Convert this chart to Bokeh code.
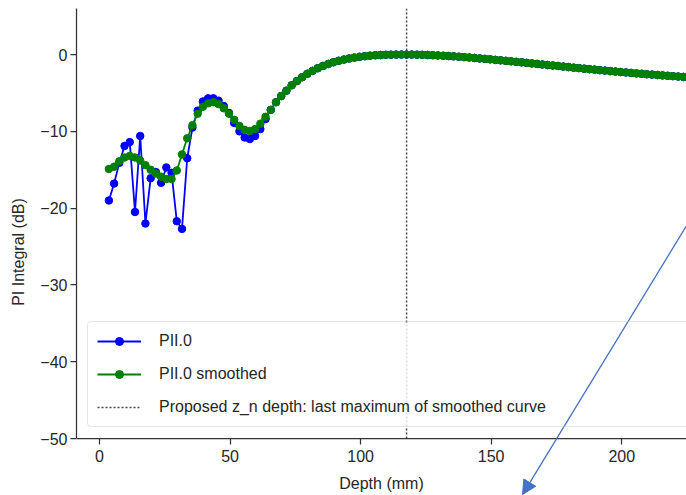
from bokeh.plotting import figure
from bokeh.models import (Legend, LegendItem, Arrow, NormalHead, Range1d, FixedTicker,
                          BoxAnnotation)
from bokeh.embed import file_html
from bokeh.resources import INLINE

# ---- data ----
depth_mm = [
    3.6, 5.6, 7.6, 9.6, 11.6, 13.6, 15.6, 17.6, 19.6, 21.6,
    23.6, 25.6, 27.6, 29.6, 31.6, 33.6, 35.6, 37.6, 39.6, 41.6,
    43.6, 45.6, 47.6, 49.6, 51.6, 53.6, 55.6, 57.6, 59.6, 61.6,
    63.6, 65.6, 67.6, 69.6, 71.6, 73.6, 75.6, 77.6, 79.6, 81.6,
    83.6, 85.6, 87.6, 89.6, 91.6, 93.6, 95.6, 97.6, 99.6, 101.6,
    103.6, 105.6, 107.6, 109.6, 111.6, 113.6, 115.6, 117.6, 119.6, 121.6,
    123.6, 125.6, 127.6, 129.6, 131.6, 133.6, 135.6, 137.6, 139.6, 141.6,
    143.6, 145.6, 147.6, 149.6, 151.6, 153.6, 155.6, 157.6, 159.6, 161.6,
    163.6, 165.6, 167.6, 169.6, 171.6, 173.6, 175.6, 177.6, 179.6, 181.6,
    183.6, 185.6, 187.6, 189.6, 191.6, 193.6, 195.6, 197.6, 199.6, 201.6,
    203.6, 205.6, 207.6, 209.6, 211.6, 213.6, 215.6, 217.6, 219.6, 221.6,
    223.6, 225.6,
]

pii_smoothed = [
    -14.9, -14.6, -13.9, -13.4, -13.2, -13.4, -13.8, -14.4, -15.0, -15.5,
    -15.9, -16.2, -16.2, -15.1, -13.0, -10.9, -9.2, -7.7, -6.8, -6.35,
    -6.2, -6.45, -7.0, -7.7, -8.5, -9.3, -9.8, -9.95, -9.7, -9.0,
    -8.1, -7.2, -6.2, -5.4, -4.7, -4.0, -3.45, -2.95, -2.5, -2.12,
    -1.78, -1.48, -1.22, -1.0, -0.81, -0.65, -0.51, -0.39, -0.29, -0.21,
    -0.14, -0.09, -0.055, -0.03, -0.015, -0.006, -0.002, 0.0, -0.004, -0.015,
    -0.03, -0.05, -0.08, -0.11, -0.15, -0.19, -0.23, -0.28, -0.33, -0.38,
    -0.44, -0.5, -0.56, -0.62, -0.69, -0.75, -0.82, -0.88, -0.95, -1.01,
    -1.08, -1.15, -1.22, -1.29, -1.36, -1.42, -1.49, -1.56, -1.63, -1.7,
    -1.76, -1.83, -1.9, -1.96, -2.03, -2.09, -2.15, -2.21, -2.27, -2.33,
    -2.39, -2.45, -2.5, -2.56, -2.61, -2.66, -2.71, -2.76, -2.81, -2.86,
    -2.91, -2.96,
]

# raw (unsmoothed) values where they differ visibly from the smoothed curve
pii_raw_head = [
    -19.0, -16.8, -14.1, -11.9, -11.4, -20.5, -10.6, -22.0, -16.1, -15.3,
    -16.7, -14.7, -15.4, -21.7, -22.7, -13.5, -9.5, -7.3, -6.1, -5.7,
    -5.7, -6.0, -6.7, -7.6, -8.9, -10.0, -10.8, -11.0, -10.6, -9.7,
    -8.4,
]
pii_raw = pii_raw_head + pii_smoothed[len(pii_raw_head):]

z_n_depth = 117.6

x_ticks = [0, 50, 100, 150, 200]
y_ticks = [-50, -40, -30, -20, -10, 0]
x_lim = (-8.8, 224.8)
y_axis_min, y_axis_max = -50, 6
y_view_min = -57.42   # visible area continues below the x axis (for the overlay arrow)

# annotation arrow overlaid on the screenshot (data coordinates)
arrow_start = (226.4, -21.4)
arrow_end = (162.0, -57.3)

labels = ["PII.0", "PII.0 smoothed",
          "Proposed z_n depth: last maximum of smoothed curve"]

FONT = "Liberation Sans"
TXT = "#262626"
AX = "#333333"

p = figure(width=686, height=495, output_backend="svg", toolbar_location=None,
           x_range=Range1d(*x_lim), y_range=Range1d(y_view_min, y_axis_max),
           min_border_left=76, min_border_right=0, min_border_top=8,
           min_border_bottom=0)
p.outline_line_color = None
p.grid.visible = False
p.background_fill_color = "white"
p.border_fill_color = "white"

for ax, ticks in ((p.xaxis[0], x_ticks), (p.yaxis[0], y_ticks)):
    ax.ticker = FixedTicker(ticks=ticks)
    ax.axis_line_color = AX
    ax.axis_line_width = 1.25
    ax.major_tick_line_color = AX
    ax.major_tick_line_width = 1.25
    ax.major_tick_out = 6
    ax.major_tick_in = 0
    ax.minor_tick_line_color = None
    ax.major_label_text_font = FONT
    ax.major_label_text_font_size = "16px"
    ax.major_label_text_color = TXT
    ax.axis_label_text_font = FONT
    ax.axis_label_text_font_size = "16px"
    ax.axis_label_text_font_style = "normal"
    ax.axis_label_text_color = TXT

p.xaxis.fixed_location = y_axis_min
p.yaxis.bounds = (y_axis_min, y_axis_max)
p.xaxis.axis_label = "Depth (mm)"
p.yaxis.axis_label = "PI Integral (dB)"
p.xaxis.major_label_standoff = 5
p.yaxis.major_label_standoff = 3
p.xaxis.axis_label_standoff = 10
p.yaxis.axis_label_standoff = 10

raw_line = p.line(depth_mm, pii_raw, line_color="blue", line_width=1.8)
raw_pts = p.scatter(depth_mm, pii_raw, size=7.5, fill_color="blue", line_color="blue")
sm_line = p.line(depth_mm, pii_smoothed, line_color="green", line_width=1.8)
sm_pts = p.scatter(depth_mm, pii_smoothed, size=7.5, fill_color="green", line_color="green")
zn_line = p.line([z_n_depth, z_n_depth], [y_axis_min, y_axis_max], line_color="#333333",
                 line_width=1.5, line_dash="2 2", line_alpha=0.9)

# translucent legend background (below the overlay arrow)
p.add_layout(BoxAnnotation(left=11, right=700, bottom=68, top=172,
                           left_units="screen", right_units="screen",
                           bottom_units="screen", top_units="screen",
                           fill_color="white", fill_alpha=0.8, line_color=None,
                           level="guide"))

legend = Legend(items=[
    LegendItem(label=labels[0], renderers=[raw_line, raw_pts]),
    LegendItem(label=labels[1], renderers=[sm_line, sm_pts]),
    LegendItem(label=labels[2], renderers=[zn_line]),
], location=(11, 68))
legend.margin = 0
legend.padding = 9
legend.spacing = 13
legend.glyph_width = 44
legend.glyph_height = 20
legend.label_height = 20
legend.label_width = 600
legend.label_standoff = 18
legend.label_text_font = FONT
legend.label_text_font_size = "16px"
legend.label_text_color = TXT
legend.border_line_color = "#cccccc"
legend.border_line_width = 1
legend.background_fill_alpha = 0.0
if "border_radius" in legend.properties():
    legend.border_radius = 4
p.add_layout(legend)

p.add_layout(Arrow(end=NormalHead(size=14, fill_color="#4472C4", line_color="#4472C4"),
                   x_start=arrow_start[0], y_start=arrow_start[1],
                   x_end=arrow_end[0], y_end=arrow_end[1],
                   line_color="#4472C4", line_width=1.3, level="overlay"))

open("out.html", "w").write(file_html(p, INLINE))
